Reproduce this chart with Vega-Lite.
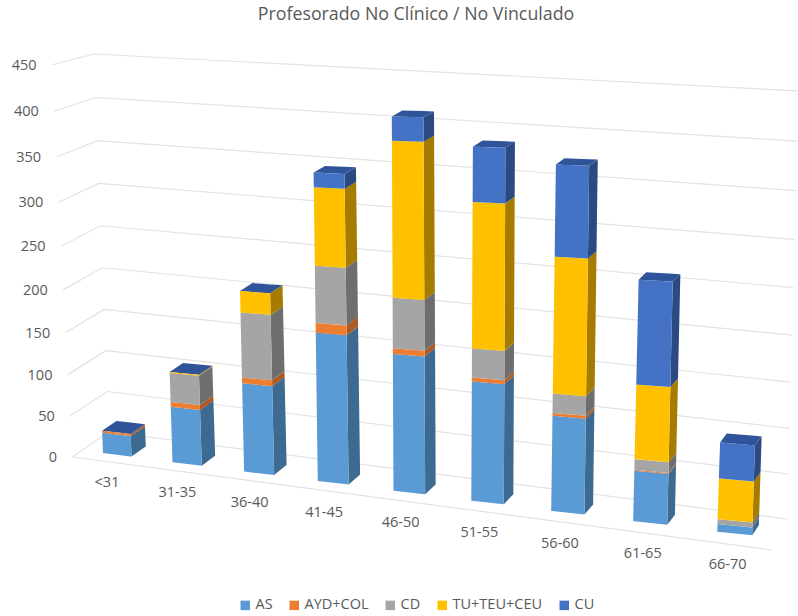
{
"$schema":"https://vega.github.io/schema/vega-lite/v6.json",
"width":798,"height":616,"padding":0,"autosize":{"type":"none"},
"background":"white",
"config":{"view":{"stroke":null},"font":"Open Sans"},
"title":{"text":"Profesorado No Clínico / No Vinculado","fontSize":17.8,"fontWeight":"normal","color":"#595959","font":"Open Sans","offset":-24,"dx":17,"anchor":"middle","frame":"group"},
"datasets":{
"ticks":[{"tick":0},{"tick":50},{"tick":100},{"tick":150},{"tick":200},{"tick":250},{"tick":300},{"tick":350},{"tick":400},{"tick":450}],
"ages":[{"age":"<31"},{"age":"31-35"},{"age":"36-40"},{"age":"41-45"},{"age":"46-50"},{"age":"51-55"},{"age":"56-60"},{"age":"61-65"},{"age":"66-70"}],
"rows":[
{"age":"<31","series":"AS","value":21},{"age":"<31","series":"AYD+COL","value":2},{"age":"<31","series":"CD","value":0},{"age":"<31","series":"TU+TEU+CEU","value":0},{"age":"<31","series":"CU","value":0},
{"age":"31-35","series":"AS","value":57},{"age":"31-35","series":"AYD+COL","value":5},{"age":"31-35","series":"CD","value":30},{"age":"31-35","series":"TU+TEU+CEU","value":1},{"age":"31-35","series":"CU","value":0},
{"age":"36-40","series":"AS","value":91},{"age":"36-40","series":"AYD+COL","value":6},{"age":"36-40","series":"CD","value":67},{"age":"36-40","series":"TU+TEU+CEU","value":22},{"age":"36-40","series":"CU","value":0},
{"age":"41-45","series":"AS","value":153},{"age":"41-45","series":"AYD+COL","value":10},{"age":"41-45","series":"CD","value":59},{"age":"41-45","series":"TU+TEU+CEU","value":81},{"age":"41-45","series":"CU","value":15},
{"age":"46-50","series":"AS","value":141},{"age":"46-50","series":"AYD+COL","value":6},{"age":"46-50","series":"CD","value":52},{"age":"46-50","series":"TU+TEU+CEU","value":162},{"age":"46-50","series":"CU","value":25},
{"age":"51-55","series":"AS","value":123},{"age":"51-55","series":"AYD+COL","value":4},{"age":"51-55","series":"CD","value":30},{"age":"51-55","series":"TU+TEU+CEU","value":151},{"age":"51-55","series":"CU","value":57},
{"age":"56-60","series":"AS","value":98},{"age":"56-60","series":"AYD+COL","value":3},{"age":"56-60","series":"CD","value":20},{"age":"56-60","series":"TU+TEU+CEU","value":141},{"age":"56-60","series":"CU","value":95},
{"age":"61-65","series":"AS","value":52},{"age":"61-65","series":"AYD+COL","value":1},{"age":"61-65","series":"CD","value":11},{"age":"61-65","series":"TU+TEU+CEU","value":77},{"age":"61-65","series":"CU","value":108},
{"age":"66-70","series":"AS","value":8},{"age":"66-70","series":"AYD+COL","value":0},{"age":"66-70","series":"CD","value":5},{"age":"66-70","series":"TU+TEU+CEU","value":42},{"age":"66-70","series":"CU","value":37}
]},
"layer":[
{"data":{"name":"ticks"},
 "transform":[
  {"calculate":"datum.tick/50","as":"n"},
  {"calculate":"[{px:72-0.044*datum.tick,py:457-40.7*datum.n-0.36*datum.n*(datum.n-1)},{px:109-0.0333*datum.tick,py:432-40.5*datum.n-0.1875*datum.n*(datum.n-1)},{px:787+1.25*datum.n,py:519-45*datum.n-0.32*datum.n*(datum.n-1)}]","as":"pts"},
  {"flatten":["pts"]},
  {"calculate":"datum.pts.px","as":"gx"},{"calculate":"datum.pts.py","as":"gy"}],
 "mark":{"type":"line","color":"#e2e2e2","strokeWidth":1.2},
 "encoding":{
  "x":{"field":"gx","type":"quantitative","scale":{"domain":[0,798],"nice":false,"zero":false},"axis":null},
  "y":{"field":"gy","type":"quantitative","scale":{"domain":[616,0],"nice":false,"zero":false},"axis":null},
  "detail":{"field":"tick"},
  "order":{"field":"gx","type":"quantitative"}}},
{"data":{"name":"ticks"},
 "transform":[{"filter":"datum.tick==0"},
  {"calculate":"[{px:72,py:457},{px:772,py:550}]","as":"pts"},
  {"flatten":["pts"]},
  {"calculate":"datum.pts.px","as":"gx"},{"calculate":"datum.pts.py","as":"gy"}],
 "mark":{"type":"line","color":"#e2e2e2","strokeWidth":1.2},
 "encoding":{
  "x":{"field":"gx","type":"quantitative","scale":{"domain":[0,798],"nice":false,"zero":false},"axis":null},
  "y":{"field":"gy","type":"quantitative","scale":{"domain":[616,0],"nice":false,"zero":false},"axis":null}}},
{"data":{"name":"ticks"},
 "transform":[{"calculate":"datum.tick/50","as":"n"},
  {"calculate":"57-0.0455*datum.tick","as":"lx"},
  {"calculate":"458-40.7*datum.n-0.36*datum.n*(datum.n-1)","as":"ly"}],
 "mark":{"type":"text","align":"right","baseline":"middle","fontSize":14.5,"color":"#595959","font":"Open Sans"},
 "encoding":{
  "x":{"field":"lx","type":"quantitative","scale":{"domain":[0,798],"nice":false,"zero":false},"axis":null},
  "y":{"field":"ly","type":"quantitative","scale":{"domain":[616,0],"nice":false,"zero":false},"axis":null},
  "text":{"field":"tick","type":"quantitative"}}},
{"data":{"name":"ages"},
 "transform":[{"calculate":"indexof(['<31','31-35','36-40','41-45','46-50','51-55','56-60','61-65','66-70'],datum.age)","as":"i"},
  {"calculate":"107+70.3*datum.i+1.04*datum.i*(datum.i-1)","as":"lx"},
  {"calculate":"483+9.8*datum.i+0.065*datum.i*(datum.i-1)","as":"ly"}],
 "mark":{"type":"text","align":"center","baseline":"middle","fontSize":14.5,"color":"#595959","font":"Open Sans"},
 "encoding":{
  "x":{"field":"lx","type":"quantitative","scale":{"domain":[0,798],"nice":false,"zero":false},"axis":null},
  "y":{"field":"ly","type":"quantitative","scale":{"domain":[616,0],"nice":false,"zero":false},"axis":null},
  "text":{"field":"age","type":"nominal"}}},
{"data":{"name":"rows"},
 "transform":[
  {"calculate":"indexof(['AS','AYD+COL','CD','TU+TEU+CEU','CU'],datum.series)","as":"ord"},
  {"calculate":"indexof(['<31','31-35','36-40','41-45','46-50','51-55','56-60','61-65','66-70'],datum.age)","as":"i"},
  {"stack":"value","groupby":["age"],"sort":[{"field":"ord","order":"ascending"}],"as":["v0","v1"]},
  {"calculate":"103+69.5*datum.i+1.04*datum.i*(datum.i-1)","as":"xl"},
  {"calculate":"28.5+0.8*datum.i","as":"w"},
  {"calculate":"14.3-0.95*datum.i","as":"dx"},
  {"calculate":"453+9.15*datum.i+0.1*datum.i*(datum.i-1)","as":"yb"},
  {"calculate":"0.009*(datum.i-4.5)","as":"L"},
  {"calculate":"datum.xl+datum.L*0.97*datum.v0","as":"a0"},
  {"calculate":"datum.xl+datum.L*0.97*datum.v1","as":"a1"},
  {"calculate":"datum.yb-0.97*datum.v0","as":"y0"},
  {"calculate":"datum.yb-0.97*datum.v1","as":"y1"},
  {"calculate":"3.5-0.0065*datum.v0","as":"s0"},
  {"calculate":"3.5-0.0065*datum.v1","as":"s1"},
  {"calculate":"10-0.0105*datum.v0","as":"d0"},
  {"calculate":"10-0.0105*datum.v1","as":"d1"},
  {"calculate":"[{kind:'front',xs:[datum.a0,datum.a0+datum.w,datum.a1+datum.w,datum.a1],ys:[datum.y0,datum.y0+datum.s0,datum.y1+datum.s1,datum.y1]},{kind:'side',xs:[datum.a0+datum.w,datum.a0+datum.w+datum.dx,datum.a1+datum.w+datum.dx,datum.a1+datum.w],ys:[datum.y0+datum.s0,datum.y0+datum.s0-datum.d0,datum.y1+datum.s1-datum.d1,datum.y1+datum.s1]},{kind:'top',xs:[datum.a1,datum.a1+datum.w,datum.a1+datum.w+datum.dx,datum.a1+datum.dx],ys:[datum.y1,datum.y1+datum.s1,datum.y1+datum.s1-datum.d1,datum.y1-datum.d1]}]","as":"faces"},
  {"flatten":["faces"]},
  {"calculate":"datum.faces.kind","as":"kind"},
  {"filter":"datum.kind!='top' || datum.series=='CU'"},
  {"filter":"datum.kind=='top' || datum.value>0"},
  {"calculate":"datum.faces.xs","as":"xs"},
  {"calculate":"datum.faces.ys","as":"ys"},
  {"calculate":"datum.age+'|'+datum.series+'|'+datum.kind","as":"id"},
  {"calculate":"datum.faces.xs","as":"X"},
  {"flatten":["X"]},
  {"calculate":"(min(datum.xs[0],datum.xs[1])<=datum.X && max(datum.xs[0],datum.xs[1])>=datum.X && datum.xs[0]!=datum.xs[1]) ? datum.ys[0]+(datum.X-datum.xs[0])*(datum.ys[1]-datum.ys[0])/(datum.xs[1]-datum.xs[0]) : -1","as":"c0"},
  {"calculate":"(min(datum.xs[1],datum.xs[2])<=datum.X && max(datum.xs[1],datum.xs[2])>=datum.X && datum.xs[1]!=datum.xs[2]) ? datum.ys[1]+(datum.X-datum.xs[1])*(datum.ys[2]-datum.ys[1])/(datum.xs[2]-datum.xs[1]) : -1","as":"c1"},
  {"calculate":"(min(datum.xs[2],datum.xs[3])<=datum.X && max(datum.xs[2],datum.xs[3])>=datum.X && datum.xs[2]!=datum.xs[3]) ? datum.ys[2]+(datum.X-datum.xs[2])*(datum.ys[3]-datum.ys[2])/(datum.xs[3]-datum.xs[2]) : -1","as":"c2"},
  {"calculate":"(min(datum.xs[3],datum.xs[0])<=datum.X && max(datum.xs[3],datum.xs[0])>=datum.X && datum.xs[3]!=datum.xs[0]) ? datum.ys[3]+(datum.X-datum.xs[3])*(datum.ys[0]-datum.ys[3])/(datum.xs[0]-datum.xs[3]) : -1","as":"c3"},
  {"calculate":"max(datum.c0,datum.c1,datum.c2,datum.c3)","as":"yLo"},
  {"calculate":"min(datum.c0<0?9999:datum.c0,datum.c1<0?9999:datum.c1,datum.c2<0?9999:datum.c2,datum.c3<0?9999:datum.c3)","as":"yHi"}
 ],
 "layer":[
  {"transform":[{"filter":"datum.kind=='side'"}],
   "mark":{"type":"area","orient":"vertical"},
   "encoding":{
    "x":{"field":"X","type":"quantitative","scale":{"domain":[0,798],"nice":false,"zero":false},"axis":null},
    "y":{"field":"yHi","type":"quantitative","stack":null,"scale":{"domain":[616,0],"nice":false,"zero":false},"axis":null},
    "y2":{"field":"yLo"},
    "detail":{"field":"id"},
    "color":{"field":"series","type":"nominal","legend":null,"scale":{"domain":["AS","AYD+COL","CD","TU+TEU+CEU","CU"],"range":["#3c6a90","#ae5a21","#6e6e6e","#a67c00","#2c4a82"]}}}},
  {"transform":[{"filter":"datum.kind=='top'"}],
   "mark":{"type":"area","orient":"vertical","color":"#30549a"},
   "encoding":{
    "x":{"field":"X","type":"quantitative","scale":{"domain":[0,798],"nice":false,"zero":false},"axis":null},
    "y":{"field":"yHi","type":"quantitative","stack":null,"scale":{"domain":[616,0],"nice":false,"zero":false},"axis":null},
    "y2":{"field":"yLo"},
    "detail":{"field":"id"}}},
  {"transform":[{"filter":"datum.kind=='front'"}],
   "mark":{"type":"area","orient":"vertical"},
   "encoding":{
    "x":{"field":"X","type":"quantitative","scale":{"domain":[0,798],"nice":false,"zero":false},"axis":null},
    "y":{"field":"yHi","type":"quantitative","stack":null,"scale":{"domain":[616,0],"nice":false,"zero":false},"axis":null},
    "y2":{"field":"yLo"},
    "detail":{"field":"id"},
    "color":{"field":"series","type":"nominal","sort":["AS","AYD+COL","CD","TU+TEU+CEU","CU"],
     "scale":{"domain":["AS","AYD+COL","CD","TU+TEU+CEU","CU"],"range":["#5b9bd5","#ed7d31","#a5a5a5","#ffc000","#4472c4"]},
     "legend":{"title":null,"orient":"none","legendX":238,"legendY":598,"direction":"horizontal","columns":5,"symbolType":"square","symbolSize":90,"symbolStrokeWidth":0,"labelFontSize":14.5,"labelColor":"#595959","labelFont":"Open Sans","columnPadding":14,"labelOffset":3}}}}
 ],
 "resolve":{"scale":{"color":"independent"}}}
]}
